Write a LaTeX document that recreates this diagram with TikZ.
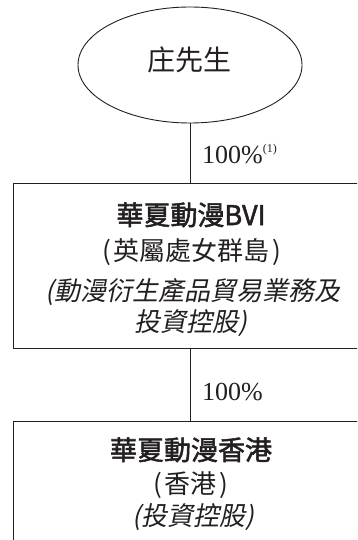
\documentclass[tikz,border=0pt]{standalone}
\usepackage{fontspec}
\setmainfont{Liberation Serif}
\newfontfamily\cjk{Noto Sans CJK TC}
\newfontfamily\cjkb{Noto Sans CJK TC}[FakeBold=2]
\newfontfamily\cjki{Noto Sans CJK TC}[FakeSlant=0.2]
\usetikzlibrary{shapes.geometric}
\definecolor{ink}{HTML}{231F20}
\newcommand{\lp}{(\hspace{3pt}}
\newcommand{\rp}{\hspace{3pt})}
\tikzset{
  lw/.style={line width=0.9pt, draw=ink},
  ownerell/.style={lw, ellipse, minimum width=224pt, minimum height=116pt, inner sep=0pt},
  entbox/.style={lw, rectangle, minimum width=354pt, inner sep=0pt},
  nametxt/.style={anchor=base, inner sep=0pt, text=ink, font=\cjkb\fontsize{27}{27}\selectfont},
  placetxt/.style={anchor=base, inner sep=0pt, text=ink, font=\cjk\fontsize{26}{26}\selectfont},
  bizt/.style={anchor=base, inner sep=0pt, text=ink, font=\cjki\fontsize{26}{26}\selectfont},
  pcttxt/.style={anchor=base west, inner sep=0pt, text=ink, font=\fontsize{26}{26}\selectfont},
}
\begin{document}
\begin{tikzpicture}[x=1pt, y=-1pt]
\useasboundingbox (0,0) rectangle (357,540);
\clip (0,0) rectangle (357,540);
\node[ownerell] (mr) at (190,65) {};
\node[placetxt, font=\cjk\fontsize{28}{28}\selectfont] (mrname) at (189,71) {庄先生};
\node[entbox, minimum height=165pt] (bvi) at (190,265.5) {};
\node[entbox, minimum height=170pt] (hk) at (190,506) {};
\draw[lw] (mr.south) -- (bvi.north);
\draw[lw] (bvi.south) -- (hk.north);
\node[pcttxt] (p1) at (202,164) {100\%\raisebox{11pt}{\fontsize{12}{12}\selectfont(1)}};
\node[pcttxt] (p2) at (202,400) {100\%};
\node[nametxt] (n1) at (191,225) {華夏動漫BVI};
\node[placetxt] (l1) at (192,260) {\lp 英屬處女群島\rp};
\node[bizt] (b1) at (193,300) {(動漫衍生產品貿易業務及};
\node[bizt] (b2) at (191,331) {投資控股)};
\node[nametxt] (n2) at (191,460) {華夏動漫香港};
\node[placetxt] (l2) at (191,493) {\lp 香港\rp};
\node[bizt] (b3) at (193,525) {(投資控股)};
\end{tikzpicture}
\end{document}
